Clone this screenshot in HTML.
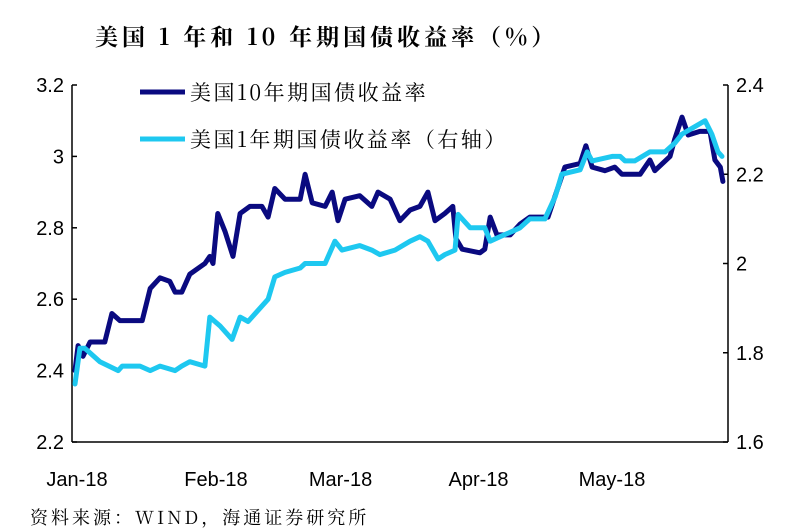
<!DOCTYPE html>
<html><head><meta charset="utf-8"><style>
body{margin:0;background:#fff;}
svg{display:block;font-family:"Liberation Sans","Noto Sans CJK SC",sans-serif;}
</style></head><body>
<svg width="801" height="531" viewBox="0 0 801 531">
<text x="95" y="45" font-size="23" font-weight="bold" letter-spacing="4" font-family="'Noto Serif CJK SC','Liberation Serif',serif">美国 1 年和 10 年期国债收益率（%）</text>
<g id="axes"></g>
<g id="series"></g>
<g>
<line x1="140" y1="92" x2="185" y2="92" stroke="#0a0a80" stroke-width="5"/>
<text x="190" y="100" font-size="21" letter-spacing="2.5" font-family="'Noto Serif CJK SC',serif">美国10年期国债收益率</text>
<line x1="140" y1="139" x2="185" y2="139" stroke="#1ec8f0" stroke-width="5"/>
<text x="190" y="147" font-size="21" letter-spacing="2.5" font-family="'Noto Serif CJK SC',serif">美国1年期国债收益率（右轴）</text>
</g>
<text x="30" y="524" font-size="18" letter-spacing="3" font-family="'Noto Serif CJK SC',serif">资料来源：WIND，海通证券研究所</text>
</svg>
<script>
const days10 = [0,0.7,1.8,3.4,6.7,8.3,10.1,15.1,16.9,19.1,21.3,22.5,24,25.8,29.2,30.3,31,32.1,33.7,35.5,37.1,39.3,42,43.4,44.9,47.2,50.6,51.7,53.3,56.2,57.8,59.1,60.7,64,66.7,68.1,70.8,73,75.3,77.5,79.3,80.9,83.1,84.9,85.6,87,91,92.1,93.3,94.8,97.8,100,102.2,106.3,107.9,110.1,113.5,114.8,116.2,119.1,121.3,122.9,127,129.2,130.3,133.7,134.8,136.4,137.8,140.4,142.7,143.8,145,145.6];
const yield10 = [2.40,2.47,2.44,2.48,2.48,2.56,2.54,2.54,2.63,2.66,2.65,2.62,2.62,2.67,2.70,2.72,2.70,2.84,2.79,2.72,2.84,2.86,2.86,2.83,2.91,2.88,2.88,2.95,2.87,2.86,2.90,2.82,2.88,2.89,2.86,2.90,2.88,2.82,2.85,2.86,2.90,2.82,2.84,2.86,2.77,2.74,2.73,2.74,2.83,2.78,2.78,2.81,2.83,2.83,2.89,2.97,2.98,3.03,2.97,2.96,2.97,2.95,2.95,2.99,2.96,3.00,3.05,3.11,3.06,3.07,3.07,2.99,2.97,2.93];
const days1 = [0,1.1,2.2,5.6,9.7,10.6,14.6,16.9,19.1,22.5,24,25.8,29.2,30.3,32.6,35.3,37.1,38.9,43.4,44.9,47.2,50.6,51.7,56.2,58.4,60,64,66.7,68.5,71.9,75.3,77.5,79.3,81.6,83.1,85.4,86.1,88.8,92.1,93.3,95.5,97.8,100,102.2,105.6,107.9,109.4,113.5,115.1,116.2,120.7,122.5,123.6,125.8,129.2,132.6,134.8,136.4,141.6,143.1,144.5,145.4];
const yield1 = [1.73,1.81,1.81,1.78,1.76,1.77,1.77,1.76,1.77,1.76,1.77,1.78,1.77,1.88,1.86,1.83,1.88,1.87,1.92,1.97,1.98,1.99,2.00,2.00,2.05,2.03,2.04,2.03,2.02,2.03,2.05,2.06,2.05,2.01,2.02,2.03,2.11,2.08,2.08,2.05,2.06,2.07,2.08,2.10,2.10,2.15,2.20,2.21,2.25,2.23,2.24,2.24,2.23,2.23,2.25,2.25,2.27,2.29,2.32,2.29,2.25,2.24];
const leftTicks = ["2.2","2.4","2.6","2.8","3","3.2"];
const rightTicks = ["1.6","1.8","2","2.2","2.4"];
const monthLabels = ["Jan-18","Feb-18","Mar-18","Apr-18","May-18"];
const monthDays = [0,31,59,90,120];

const NS="http://www.w3.org/2000/svg";
const X0=72,X1=728,Y0=442,Y1=85;
const xS=d=>75+d*4.45;
const yL=v=>Y0-(v-2.2)/(3.2-2.2)*(Y0-Y1);
const yR=v=>Y0-(v-1.6)/(2.4-1.6)*(Y0-Y1);
function mk(tag,attrs,parent){const e=document.createElementNS(NS,tag);for(const k in attrs)e.setAttribute(k,attrs[k]);parent.appendChild(e);return e;}
const ax=document.getElementById('axes');
let a=mk('line',{x1:X0,y1:Y1,x2:X0,y2:Y0,stroke:'#000','stroke-width':1.5},ax);


a=mk('line',{x1:X1,y1:Y1,x2:X1,y2:Y0,stroke:'#000','stroke-width':1.5},ax);


a=mk('line',{x1:X0,y1:Y0,x2:X1,y2:Y0,stroke:'#000','stroke-width':1.5},ax);


leftTicks.forEach(t=>{const y=yL(parseFloat(t));
 const l=mk('line',{x1:X0,y1:y,x2:X0+5,y2:y,stroke:'#000','stroke-width':1.5},ax);
 
 
 const tx=mk('text',{x:X0-8,y:y+7,'font-size':20,'text-anchor':'end'},ax);tx.textContent=t;
 
 });
rightTicks.forEach(t=>{const y=yR(parseFloat(t));
 const l=mk('line',{x1:X1-5,y1:y,x2:X1,y2:y,stroke:'#000','stroke-width':1.5},ax);
 
 
 const tx=mk('text',{x:X1+8,y:y+7,'font-size':20},ax);tx.textContent=t;
 
 });
monthLabels.forEach((m,i)=>{const x=xS(monthDays[i])+(i?3:2);
 const tx=mk('text',{x:x,y:486,'font-size':20,'text-anchor':'middle'},ax);tx.textContent=m;
 
 });
const sg=document.getElementById('series');
function line(ds,vs,ys,color,name){const d=ds.map((x,i)=>(i?'L':'M')+xS(x).toFixed(1)+','+ys(vs[i]).toFixed(1)).join('');
 const p=mk('path',{d:d,fill:'none',stroke:color,'stroke-width':5,'stroke-linejoin':'round','stroke-linecap':'round'},sg);
 
 }
line(days10,yield10,yL,'#0a0a80','series-10y-yield');
line(days1,yield1,yR,'#1ec8f0','series-1y-yield');
</script>
</body></html>
